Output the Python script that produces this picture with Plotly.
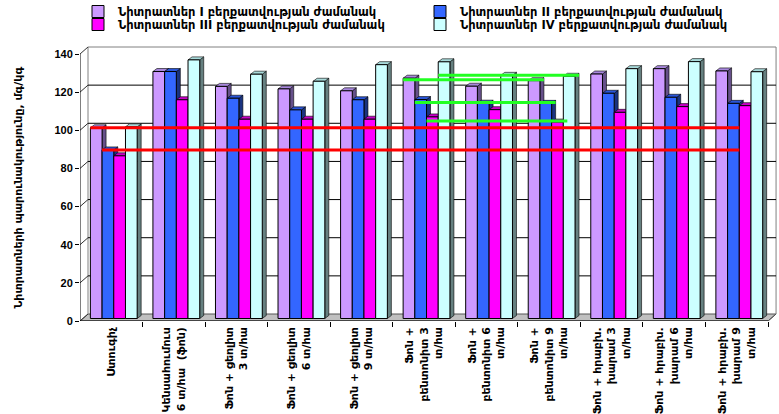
import plotly.graph_objects as go

# ---------------- data ----------------
categories = [
    "Ստուգիչ",
    "Կենսահումուս<br>6 տ/հա  (ֆոն)",
    "Ֆոն + ցեոլիտ<br>3 տ/հա",
    "Ֆոն + ցեոլիտ<br>6 տ/հա",
    "Ֆոն + ցեոլիտ<br>9 տ/հա",
    "Ֆոն +<br>բենտոնիտ 3<br>տ/հա",
    "Ֆոն +<br>բենտոնիտ 6<br>տ/հա",
    "Ֆոն +<br>բենտոնիտ 9<br>տ/հա",
    "Ֆոն + հրաբխ.<br>խարամ 3<br>տ/հա",
    "Ֆոն + հրաբխ.<br>խարամ 6<br>տ/հա",
    "Ֆոն + հրաբխ.<br>խարամ 9<br>տ/հա",
]
series_names = [
    "Նիտրատներ I բերքատվության ժամանակ",
    "Նիտրատներ II բերքատվության ժամանակ",
    "Նիտրատներ III բերքատվության ժամանակ",
    "Նիտրատներ IV բերքատվության ժամանակ",
]
nitrates_I = [100.0, 129.5, 121.7, 120.4, 119.4, 126.0, 121.8, 124.7, 128.2, 131.0, 129.8]
nitrates_II = [88.4, 129.5, 115.5, 109.4, 114.7, 114.8, 112.9, 112.8, 118.1, 116.0, 112.8]
nitrates_III = [85.3, 114.7, 104.5, 104.5, 104.5, 105.7, 109.5, 103.0, 108.1, 111.1, 111.6]
nitrates_IV = [100.5, 135.6, 128.1, 124.4, 133.1, 134.6, 127.5, 127.0, 131.0, 134.7, 129.4]
y_ticks = [0, 20, 40, 60, 80, 100, 120, 140]
y_title = "Նիտրատների պարունակությունը, մգ/կգ"

series = [nitrates_I, nitrates_II, nitrates_III, nitrates_IV]

# reference lines: control level (red) and "bentonite 9" level (green)
red_from_group, red_to_group = 0, 10
green_from_group, green_to_group = 5, 7

# ---------------- style ----------------
front_col = ["#CC99FF", "#3366FF", "#FF00FF", "#CCFFFF"]
side_col = ["#66508A", "#1A3380", "#800080", "#668080"]
top_col = ["#A888DD", "#2A55D8", "#C800C8", "#A8DADA"]

FONT = "Liberation Sans, Arial, DejaVu Sans, sans-serif"
ARM_FONT = "DejaVu Sans, Liberation Sans, sans-serif"
FIG_W, FIG_H = 779, 414
ML, MR, MT, MB = 80, 0, 44, 93
PX_PER_CAT = 62.55
PX_PER_VAL = 267 / 140.0
PLOT_W = FIG_W - ML - MR
PLOT_H = FIG_H - MT - MB

n = len(categories)
x_range = [-0.5, -0.5 + PLOT_W / PX_PER_CAT]
y_range = [0, PLOT_H / PX_PER_VAL]

W = 0.187          # bar width (category units)
XS = 0.04          # small perspective shift of bar cluster
B0 = 2.5 / PX_PER_VAL       # bar front face base offset
DX = 4 / PX_PER_CAT         # bar depth (x)
DY = 3 / PX_PER_VAL         # bar depth (y)
BX = 8 / PX_PER_CAT         # back wall offset (x)
BY = 7 / PX_PER_VAL         # back wall offset (y)

xs = list(range(n))

fig = go.Figure()
shapes = []

def poly(pts, fill, line_col="#000000", lw=0.6, layer="between"):
    p = "M " + " L ".join(f"{a},{b}" for a, b in pts) + " Z"
    return dict(type="path", path=p, xref="x", yref="y", fillcolor=fill,
                line=dict(color=line_col, width=lw), layer=layer)

# floor
x_left, x_right = -0.5, n - 0.5
shapes.append(poly([(x_left, 0), (x_right, 0), (x_right + BX, BY), (x_left + BX, BY)],
                   "#C0C0C0", "#555555", 1, "below"))
# back wall border
shapes.append(dict(type="line", xref="x", yref="y", x0=x_left + BX, x1=x_left + BX,
                   y0=BY, y1=y_ticks[-1] + BY, line=dict(color="#808080", width=1), layer="below"))
shapes.append(dict(type="line", xref="x", yref="y", x0=x_right + BX, x1=x_right + BX,
                   y0=BY, y1=y_ticks[-1] + BY, line=dict(color="#808080", width=1), layer="below"))
# back-wall gridlines and side-wall diagonals
for v in y_ticks:
    if v > 0:
        col = "#808080" if v == y_ticks[-1] else "#000000"
        shapes.append(dict(type="line", xref="x", yref="y", x0=x_left + BX, x1=x_right + BX,
                           y0=v + BY, y1=v + BY, line=dict(color=col, width=1), layer="below"))
    shapes.append(dict(type="line", xref="x", yref="y", x0=x_left, x1=x_left + BX,
                       y0=v, y1=v + BY, line=dict(color="#333333", width=1), layer="below"))

# front axis lines
shapes.append(dict(type="line", xref="x", yref="y", x0=x_left, x1=x_left, y0=0, y1=y_ticks[-1],
                   line=dict(color="#000000", width=1), layer="above"))
shapes.append(dict(type="line", xref="x", yref="y", x0=x_left, x1=x_right, y0=0, y1=0,
                   line=dict(color="#000000", width=1), layer="above"))
shapes.append(dict(type="line", xref="x", yref="y", x0=x_right, x1=x_right + BX, y0=0, y1=BY,
                   line=dict(color="#555555", width=1), layer="above"))

# bars (front faces) + 3D side/top faces
for k, (vals, name) in enumerate(zip(series, series_names)):
    off = XS + (k - 2) * W
    fig.add_trace(go.Bar(
        x=xs, y=vals, base=B0, width=W, offset=off, name=name,
        legend="legend" if k < 2 else "legend2",
        marker=dict(color=front_col[k], line=dict(color="#000000", width=1)),
    ))
for i in range(n):
    for k, vals in enumerate(series):
        xl = i + XS + (k - 2) * W
        xr = xl + W
        top = B0 + vals[i]
        shapes.append(poly([(xr, B0), (xr + DX, B0 + DY), (xr + DX, top + DY), (xr, top)], side_col[k]))
        shapes.append(poly([(xl, top), (xl + DX, top + DY), (xr + DX, top + DY), (xr, top)], top_col[k]))

# red lines: control levels (series I and II)
for k in (0, 1):
    xl = red_from_group + XS + (k - 2) * W
    xr = red_to_group + XS
    yv = B0 + series[k][red_from_group]
    shapes.append(dict(type="line", xref="x", yref="y", x0=xl, x1=xr, y0=yv, y1=yv,
                       line=dict(color="#FF0000", width=3), layer="above"))
# green lines: bentonite 9 levels
for k in range(4):
    xl = green_from_group + XS + (k - 2) * W
    xr = green_to_group + XS + (k - 1) * W + DX
    yv = B0 + series[k][green_to_group] + 0.5
    shapes.append(dict(type="line", xref="x", yref="y", x0=xl, x1=xr, y0=yv, y1=yv,
                       line=dict(color="#22FF22", width=3), layer="above"))

legend_common = dict(
    orientation="h", x=(78 - ML) / PLOT_W, xanchor="left", yanchor="top",
    entrywidth=297, entrywidthmode="pixels",
    font=dict(family=ARM_FONT, size=11.5, weight="bold"),
    bgcolor="rgba(0,0,0,0)", itemwidth=30, tracegroupgap=0,
)

fig.update_layout(
    width=FIG_W, height=FIG_H,
    margin=dict(l=ML, r=MR, t=MT, b=MB, autoexpand=False),
    paper_bgcolor="white", plot_bgcolor="white",
    barmode="overlay",
    font=dict(family=FONT, size=11, color="#000000", weight="bold"),
    shapes=shapes,
    showlegend=True,
    legend=dict(legend_common, y=1 + (MT + 3) / PLOT_H),
    legend2=dict(legend_common, y=1 + (MT - 10) / PLOT_H),
    xaxis=dict(
        range=x_range, tickmode="array", tickvals=xs, ticktext=categories,
        tickangle=-90, ticks="", showgrid=False, zeroline=False, showline=False,
        ticklabelstandoff=3,
        tickfont=dict(family=ARM_FONT, size=11, weight="bold"),
        minor=dict(tickmode="array", tickvals=[i + 0.5 for i in range(n)],
                   ticks="outside", ticklen=5, tickcolor="#000000", showgrid=False),
    ),
    yaxis=dict(
        range=y_range, tickmode="array", tickvals=y_ticks,
        ticks="outside", ticklen=4, tickcolor="#000000",
        showgrid=False, zeroline=False, showline=False,
        tickfont=dict(family=FONT, size=11, weight="bold"),
    ),
    annotations=[dict(
        text=y_title, textangle=-90, xref="paper", yref="y",
        x=(18 - ML) / PLOT_W, y=70, showarrow=False,
        xanchor="center", yanchor="middle",
        font=dict(family=ARM_FONT, size=11, weight="bold"),
    )],
)

fig.write_html("out.html", config={"displayModeBar": False},
               post_script="document.body.style.margin='0px';")
